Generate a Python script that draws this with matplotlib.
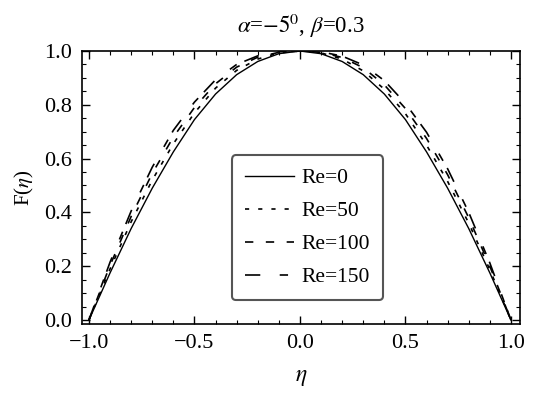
import numpy as np
import matplotlib.pyplot as plt
from matplotlib.ticker import MultipleLocator

plt.rcParams['font.family'] = ['Liberation Serif', 'DejaVu Serif']
plt.rcParams['mathtext.fontset'] = 'stix'
plt.rcParams['lines.scale_dashes'] = False

eta = np.array([-1.0, -0.9, -0.8, -0.7, -0.6, -0.5, -0.4, -0.3, -0.2, -0.1, 0.0,
                0.1, 0.2, 0.3, 0.4, 0.5, 0.6, 0.7, 0.8, 0.9, 1.0])

f_re0 = np.array([0.0, 0.175, 0.34, 0.49, 0.625, 0.745, 0.84, 0.912, 0.961, 0.99, 1.0,
                  0.99, 0.961, 0.912, 0.84, 0.745, 0.625, 0.49, 0.34, 0.175, 0.0])
f_re50 = np.array([0.0, 0.19, 0.365, 0.52, 0.655, 0.77, 0.862, 0.928, 0.97, 0.993, 1.0,
                   0.993, 0.97, 0.926, 0.858, 0.767, 0.65, 0.515, 0.36, 0.187, 0.0])
f_re100 = np.array([0.0, 0.203, 0.385, 0.545, 0.68, 0.79, 0.878, 0.94, 0.977, 0.995, 1.0,
                    0.995, 0.976, 0.938, 0.874, 0.786, 0.675, 0.54, 0.38, 0.2, 0.0])
f_re150 = np.array([0.0, 0.215, 0.405, 0.568, 0.705, 0.81, 0.893, 0.95, 0.982, 0.997, 1.0,
                    0.997, 0.981, 0.948, 0.89, 0.805, 0.698, 0.562, 0.4, 0.212, 0.0])

fig = plt.figure(figsize=(5.38, 3.94), dpi=100)
ax = fig.add_axes([82 / 538, 1 - 324 / 394, 438 / 538, 273 / 394])

ax.plot(eta, f_re0, color='black', lw=1.0, label='Re=0')
ax.plot(eta, f_re50, color='black', lw=1.2, dashes=(3, 6.5), label='Re=50')
ax.plot(eta, f_re100, color='black', lw=1.2, dashes=(6, 9), label='Re=100')
ax.plot(eta, f_re150, color='black', lw=1.2, dashes=(11, 14, 6, 6), label='Re=150')

ax.set_xlim(-1.033, 1.043)
ax.set_ylim(-0.015, 1.0)
ax.xaxis.set_major_locator(MultipleLocator(0.5))
ax.xaxis.set_minor_locator(MultipleLocator(0.1))
ax.yaxis.set_major_locator(MultipleLocator(0.2))
ax.yaxis.set_minor_locator(MultipleLocator(0.05))
ax.xaxis.set_major_formatter(plt.FuncFormatter(lambda v, p: ('%.1f' % v).replace('-', '\u2212')))
ax.yaxis.set_major_formatter(plt.FuncFormatter(lambda v, p: '%.1f' % v))
ax.tick_params(which='both', direction='in', top=True, right=True, labelsize=16)
ax.tick_params(which='major', length=6, width=1, pad=7)
ax.tick_params(which='minor', length=3, width=0.8)
for s in ax.spines.values():
    s.set_linewidth(1.2)

ax.set_title(r'$\alpha$=$-5^0$, $\beta$=0.3', fontsize=16.5, pad=13)
ax.set_xlabel(r'$\eta$', fontsize=17, labelpad=10)
ax.set_ylabel(r'F($\eta$)', fontsize=15, labelpad=6)

leg = ax.legend(loc='center', bbox_to_anchor=(0.515, 0.353), fontsize=15.5,
                handlelength=2.3, labelspacing=0.6, borderpad=0.6, handletextpad=0.35,
                borderaxespad=0, fancybox=True, framealpha=1)
leg.get_frame().set_edgecolor('#555555')
leg.get_frame().set_linewidth(1.5)

fig.savefig('out.png', dpi=100)
